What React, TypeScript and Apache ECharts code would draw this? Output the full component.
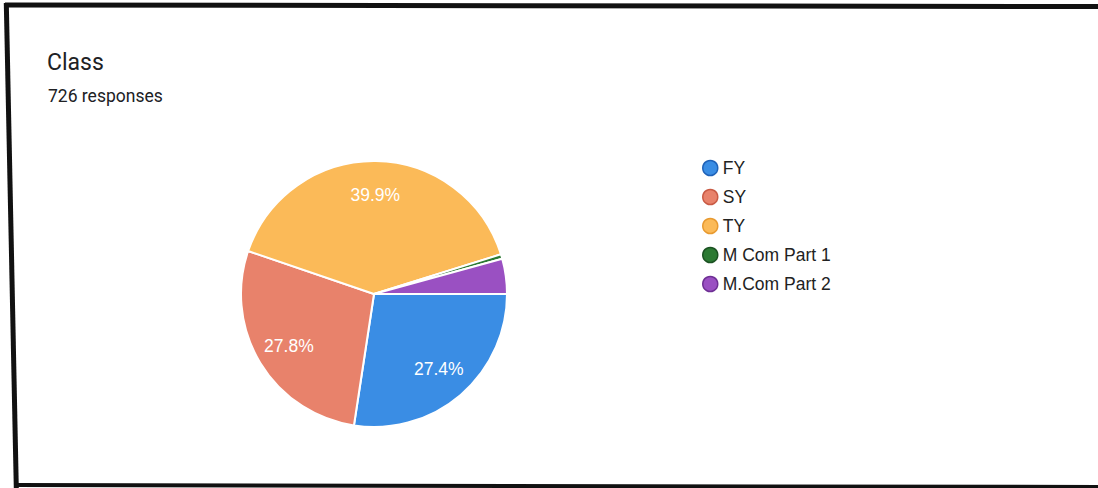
import React, { useEffect, useRef } from "react";
import * as echarts from "echarts";

const categories = ["FY", "SY", "TY", "M Com Part 1", "M.Com Part 2"];
const responses = [199, 202, 290, 4, 31];
const sliceColors = ["#3a8de4", "#e8826b", "#fbba58", "#2c7a33", "#9a50c2"];
const edgeColors = ["#1f62b8", "#c95a44", "#e89a30", "#1b5222", "#6e2f94"];
const titleText = "Class";
const subtitleText = "726 responses";

export default function App() {
  const ref = useRef<HTMLDivElement>(null);
  useEffect(() => {
    if (!ref.current) return;
    const chart = echarts.init(ref.current, null, { renderer: "svg" });
    const total = responses.reduce((a, b) => a + b, 0);
    const data = categories.map((name, i) => ({
      name,
      value: responses[i],
      itemStyle: { color: sliceColors[i] },
    }));
    const labelData = categories.map((name, i) => ({
      name,
      value: responses[i],
      label: { show: responses[i] / total > 0.1 },
    }));
    chart.setOption({
      animation: false,
      backgroundColor: "#ffffff",
      title: [
        {
          text: titleText,
          left: 47,
          top: 51,
          padding: 0,
          textStyle: { fontFamily: "Roboto", fontSize: 23, fontWeight: "normal", color: "#202124" },
        },
        {
          text: subtitleText,
          left: 48,
          top: 87,
          padding: 0,
          textStyle: { fontFamily: "Roboto", fontSize: 17.5, fontWeight: "normal", color: "#202124" },
        },
      ],
      legend: {
        orient: "vertical",
        left: 702,
        top: 159,
        itemWidth: 15,
        itemHeight: 15,
        itemGap: 11,
        icon: "circle",
        padding: 0,
        textStyle: { fontFamily: "Liberation Sans", fontSize: 17.5, lineHeight: 15, color: "#222222" },
        data: categories.map((name, i) => ({
          name,
          itemStyle: { borderColor: edgeColors[i], borderWidth: 1.5 },
        })),
      },
      graphic: [
        { type: "line", shape: { x1: 5, y1: 5, x2: 1098, y2: 6.5 }, style: { stroke: "#111111", lineWidth: 5 } },
        { type: "line", shape: { x1: 6.3, y1: 3, x2: 16.3, y2: 488 }, style: { stroke: "#111111", lineWidth: 5 } },
        { type: "line", shape: { x1: 14, y1: 485, x2: 1098, y2: 487 }, style: { stroke: "#111111", lineWidth: 4 } },
      ],
      series: [
        {
          type: "pie",
          center: [374, 294],
          radius: [0, 133],
          startAngle: 0,
          clockwise: true,
          label: { show: false },
          labelLine: { show: false },
          itemStyle: { borderColor: "#ffffff", borderWidth: 2 },
          emphasis: { disabled: true },
          data,
        },
        {
          type: "pie",
          center: [374, 294],
          radius: [60, 133],
          startAngle: 0,
          clockwise: true,
          silent: true,
          itemStyle: { color: "rgba(0,0,0,0)", borderWidth: 0 },
          label: {
            position: "inside",
            formatter: (p: any) => ((p.value / total) * 100).toFixed(1) + "%",
            color: "#ffffff",
            fontFamily: "Liberation Sans",
            fontSize: 17.5,
          },
          labelLine: { show: false },
          emphasis: { disabled: true },
          data: labelData,
        },
      ],
    });
    return () => chart.dispose();
  }, []);
  return (
    <div
      ref={ref}
      style={{ position: "fixed", left: 0, top: 0, width: 1098, height: 488 }}
    />
  );
}
